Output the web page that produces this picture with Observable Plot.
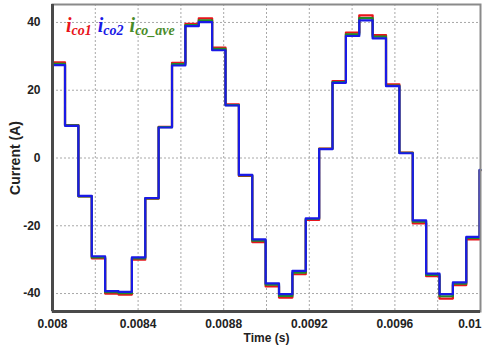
<!DOCTYPE html>
<html>
<head>
<meta charset="utf-8">
<script src="https://cdn.jsdelivr.net/npm/d3@7"></script>
<script src="https://cdn.jsdelivr.net/npm/@observablehq/plot@0.6"></script>
<style>
  html, body { margin: 0; padding: 0; background: #fff; }
  #wrap { position: relative; width: 482px; height: 347px; }
  #legend { position: absolute; left: 66px; top: 15px; font-family: "Liberation Serif", "DejaVu Serif", serif; font-style: italic; font-weight: bold; font-size: 20px; white-space: nowrap; line-height: 20px; }
  #legend span { margin-right: 6px; }
  #legend sub { font-size: 14px; vertical-align: -3px; }
</style>
</head>
<body>
<div id="wrap"><div id="legend"></div></div>
<script>
// Step start times (s)
const times = [0.008, 0.0080585, 0.008121, 0.0081835, 0.008246, 0.0083085, 0.008371, 0.0084335, 0.008496,
  0.0085585, 0.008621, 0.0086835, 0.008746, 0.0088085, 0.008871, 0.0089335, 0.008996, 0.0090585, 0.009121,
  0.0091835, 0.009246, 0.0093085, 0.009371, 0.0094335, 0.009496, 0.0095585, 0.009621, 0.0096835, 0.009746,
  0.0098085, 0.009871, 0.0099335, 0.009996];
const tEnd = 0.01;
// Current levels (A)
const ico1 = [28.2, 9.7, -11.3, -29.6, -40.0, -40.3, -30.0, -12.0, 9.2, 28.1, 39.6, 41.2, 32.6, 15.8, -5.3, -24.8,
  -37.9, -41.2, -34.3, -18.3, 2.8, 22.7, 37.0, 42.1, 36.3, 21.7, 1.6, -19.3, -34.9, -41.5, -37.5, -24.0, -3.7];
const ico2 = [27.4, 9.5, -11.2, -29.0, -39.3, -39.5, -29.3, -11.8, 9.0, 27.3, 38.9, 40.1, 31.8, 15.5, -5.0, -24.0,
  -37.0, -40.2, -33.3, -17.8, 2.6, 22.2, 36.0, 40.6, 35.3, 21.2, 1.4, -18.4, -34.1, -40.2, -36.7, -23.3, -3.5];
const icoAve = [27.8, 9.6, -11.3, -29.3, -39.6, -39.9, -29.6, -11.9, 9.1, 27.7, 39.2, 40.6, 32.2, 15.6, -5.1, -24.4,
  -37.4, -40.7, -33.8, -18.0, 2.7, 22.4, 36.5, 41.3, 35.8, 21.4, 1.5, -18.8, -34.5, -40.8, -37.1, -23.6, -3.6];

const seriesNames = ["co1", "co2", "co_ave"];
const seriesColors = ["#e8141b", "#1a1ae6", "#4a8c2a"];
const lineColors = ["#e8141b", "#1a1ae6", "#1f8a2a"];
const xGridTicks = [0.008, 0.0082, 0.0084, 0.0086, 0.0088, 0.009, 0.0092, 0.0094, 0.0096, 0.0098, 0.01];
const xLabelTicks = [0.008, 0.0084, 0.0088, 0.0092, 0.0096];
const xLastTick = [0.01];
const yTicks = [-40, -20, 0, 20, 40];
const yDomain = [-45.3, 45.3];

function toRows(vals) {
  const rows = times.map((t, i) => ({t, v: vals[i]}));
  rows.push({t: tEnd, v: vals[vals.length - 1]});
  return rows;
}
const dataSets = [ico1, icoAve, ico2];
const drawColors = [lineColors[0], lineColors[2], lineColors[1]];
const fmtX = d => String(+d.toFixed(4));

const chart = Plot.plot({
  width: 482,
  height: 347,
  marginLeft: 52,
  marginRight: 2,
  marginTop: 4,
  marginBottom: 36,
  x: {domain: [0.008, 0.01]},
  y: {domain: yDomain},
  style: {fontFamily: "'Liberation Sans', Arial, sans-serif", fontWeight: "bold", fontSize: "12px", color: "#222", background: "#fff"},
  marks: [
    Plot.gridX(xGridTicks, {stroke: "#a8a8a8", strokeOpacity: 1, strokeDasharray: "2,2"}),
    Plot.gridY(yTicks, {stroke: "#a8a8a8", strokeOpacity: 1, strokeDasharray: "2,2"}),
    ...dataSets.map((vals, i) => Plot.line(toRows(vals), {x: "t", y: "v", curve: "step-after", stroke: drawColors[i], strokeWidth: 2.2})),
    Plot.axisX(xLabelTicks, {tickSize: 0, tickPadding: 8, tickFormat: fmtX, fontSize: 12, label: "Time (s)", labelAnchor: "center", labelArrow: "none", labelOffset: 30}),
    Plot.axisX(xLastTick, {tickSize: 0, tickPadding: 8, tickFormat: fmtX, fontSize: 12, textAnchor: "end", dx: 1, label: null}),
    Plot.axisY(yTicks, {tickSize: 0, tickPadding: 12, tickFormat: d => String(d), fontSize: 12, label: null}),
    Plot.axisY(yTicks, {tickSize: 0, tickFormat: () => "", fontSize: 14, label: "Current (A)", labelAnchor: "center", labelArrow: "none", labelOffset: 42}),
    Plot.frame({stroke: "#8a8a8a", strokeWidth: 2}),
    Plot.ruleX([0.008], {stroke: "#4a4a4a", strokeWidth: 3}),
    Plot.ruleY([yDomain[0]], {stroke: "#4a4a4a", strokeWidth: 3})
  ]
});
document.getElementById("wrap").prepend(chart);

const legend = document.getElementById("legend");
seriesNames.forEach((n, i) => {
  const s = document.createElement("span");
  s.style.color = seriesColors[i];
  s.innerHTML = "i<sub>" + n + "</sub>";
  legend.appendChild(s);
});
</script>
</body>
</html>
